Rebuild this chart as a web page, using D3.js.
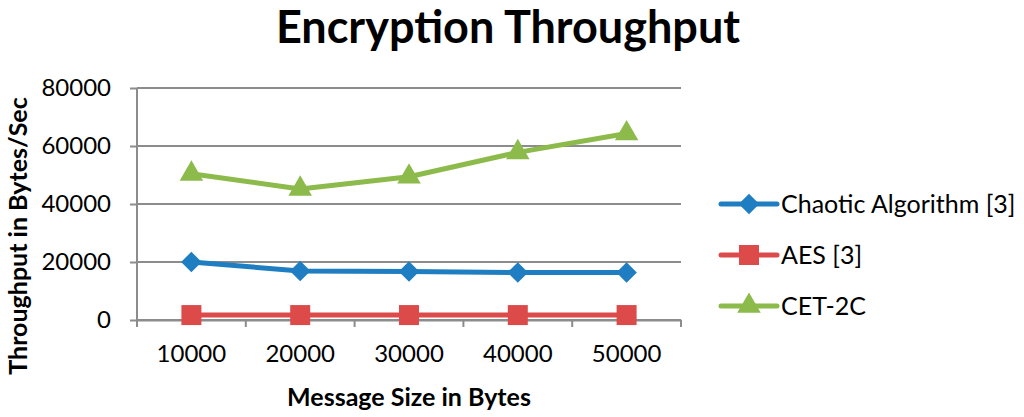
<!DOCTYPE html>
<html>
<head>
<meta charset="utf-8">
<script src="https://cdn.jsdelivr.net/npm/d3@7"></script>
<style>
  body { margin: 0; background: white; }
  text { font-family: Lato, "Open Sans", sans-serif; fill: #000; }
</style>
</head>
<body>
<div id="chart"></div>
<script>
// data
const categories = ["10000", "20000", "30000", "40000", "50000"]
const chaotic = [20000, 16900, 16700, 16400, 16400]
const aes = [1700, 1700, 1700, 1700, 1700]
const cet2c = [50400, 45200, 49400, 57800, 64300]
const yTicks = [0, 20000, 40000, 60000, 80000]

const seriesNames = ["Chaotic Algorithm [3]", "AES [3]", "CET-2C"]
const colors = ["#1f7ec1", "#dc4b4a", "#8cbb4c"]
const series = [chaotic, aes, cet2c]

// marker shapes: diamond is a square turned 45 degrees
const markers = [
  {type: d3.symbolSquare, size: 210, rot: 45},
  {type: d3.symbolSquare, size: 400, rot: 0},
  {type: d3.symbolTriangle, size: 240, rot: 0}
]

const W = 1024, H = 417
const margin = {top: 88, right: 343, bottom: 97, left: 137}
const width = W - margin.left - margin.right,
      height = H - margin.top - margin.bottom

const svg = d3.select("#chart").append("svg")
    .attr("width", W)
    .attr("height", H)
  .append("g")
    .attr("transform", `translate(${margin.left}, ${margin.top})`)

const x = d3.scaleBand().domain(categories).range([0, width])
const y = d3.scaleLinear().domain([0, 80000]).range([height, 0])

// gridlines
svg.append("g")
  .selectAll("line")
  .data(yTicks)
  .join("line")
    .attr("x1", 0).attr("x2", width)
    .attr("y1", d => y(d)).attr("y2", d => y(d))
    .attr("stroke", "#8c8c8c")
    .attr("stroke-width", 2)

// y axis
const yAxis = svg.append("g")
  .call(d3.axisLeft(y).tickValues(yTicks).tickSize(7).tickPadding(19).tickFormat(d3.format("d")))
yAxis.select(".domain").attr("stroke", "#8c8c8c").attr("stroke-width", 2).attr("d", `M0,${height + 1}V${0}`)
yAxis.selectAll(".tick line").attr("stroke", "#8c8c8c").attr("stroke-width", 2)
yAxis.selectAll("text").style("font-size", "24px").style("font-family", "Lato, sans-serif").attr("fill", "#000")

// x axis
const xAxis = svg.append("g")
  .attr("transform", `translate(0, ${height})`)
  .call(d3.axisBottom(x).tickSize(0).tickPadding(25))
xAxis.select(".domain").attr("stroke", "#8c8c8c").attr("stroke-width", 2)
xAxis.selectAll("text").style("font-size", "24px").style("font-family", "Lato, sans-serif").attr("fill", "#000")
svg.append("g")
  .selectAll("line")
  .data(d3.range(categories.length + 1))
  .join("line")
    .attr("x1", i => i * x.step()).attr("x2", i => i * x.step())
    .attr("y1", height).attr("y2", height + 7)
    .attr("stroke", "#8c8c8c")
    .attr("stroke-width", 2)

// lines + markers
const line = d3.line()
  .x((d, i) => x(categories[i]) + x.bandwidth() / 2)
  .y(d => y(d))

series.forEach((vals, s) => {
  svg.append("path")
    .datum(vals)
    .attr("d", line)
    .attr("fill", "none")
    .attr("stroke", colors[s])
    .attr("stroke-width", 5)
    .attr("stroke-linejoin", "round")
  svg.append("g")
    .selectAll("path")
    .data(vals)
    .join("path")
      .attr("transform", (d, i) => `translate(${x(categories[i]) + x.bandwidth() / 2}, ${y(d)}) rotate(${markers[s].rot})`)
      .attr("d", d3.symbol().type(markers[s].type).size(markers[s].size))
      .attr("fill", colors[s])
})

// title
svg.append("text")
  .attr("x", 508 - margin.left)
  .attr("y", 43 - margin.top)
  .attr("text-anchor", "middle")
  .style("font-size", "45px")
  .style("font-weight", "bold")
  .text("Encryption Throughput")

// axis titles
svg.append("text")
  .attr("transform", `translate(${27 - margin.left}, ${236 - margin.top}) rotate(-90)`)
  .attr("text-anchor", "middle")
  .style("font-size", "25px")
  .style("font-weight", "bold")
  .text("Throughput in Bytes/Sec")

svg.append("text")
  .attr("x", 409 - margin.left)
  .attr("y", height + 86)
  .attr("text-anchor", "middle")
  .style("font-size", "25px")
  .style("font-weight", "bold")
  .text("Message Size in Bytes")

// legend
const legend = svg.append("g")
  .attr("transform", `translate(${721 - margin.left}, ${204 - margin.top})`)
seriesNames.forEach((name, s) => {
  const g = legend.append("g").attr("transform", `translate(0, ${s * 51})`)
  g.append("line")
    .attr("x1", 0).attr("x2", 56)
    .attr("stroke", colors[s]).attr("stroke-width", 5).attr("stroke-linecap", "round")
  g.append("path")
    .attr("transform", `translate(28, 0) rotate(${markers[s].rot})`)
    .attr("d", d3.symbol().type(markers[s].type).size(markers[s].size))
    .attr("fill", colors[s])
  g.append("text")
    .attr("x", 60)
    .attr("y", 9)
    .style("font-size", "25px")
    .text(name)
})
</script>
</body>
</html>
